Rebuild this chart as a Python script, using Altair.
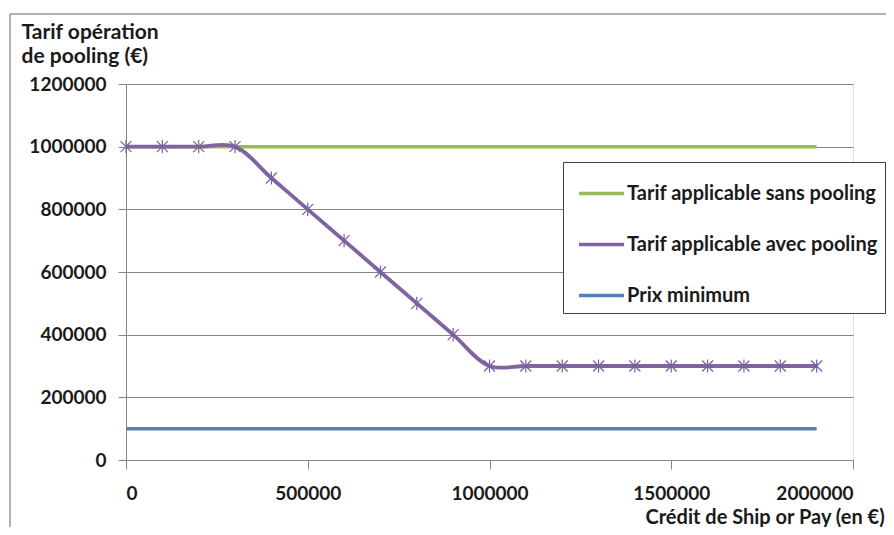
import altair as alt
import pandas as pd

x_vals = [0, 100000, 200000, 300000, 400000, 500000, 600000, 700000, 800000, 900000,
          1000000, 1100000, 1200000, 1300000, 1400000, 1500000, 1600000, 1700000, 1800000, 1900000]
sans_pooling = [1000000, 1000000, 1000000, 1000000, 1000000, 1000000, 1000000,
                1000000, 1000000, 1000000, 1000000, 1000000, 1000000, 1000000, 1000000,
                1000000, 1000000, 1000000, 1000000, 1000000]
avec_pooling = [1000000, 1000000, 1000000, 1000000, 900000, 800000, 700000, 600000, 500000,
                400000, 300000, 300000, 300000, 300000, 300000, 300000, 300000, 300000,
                300000, 300000]
prix_minimum = [100000, 100000, 100000, 100000, 100000, 100000, 100000, 100000, 100000, 100000,
                100000, 100000, 100000, 100000, 100000, 100000, 100000, 100000, 100000, 100000]

series_names = ["Tarif applicable sans pooling", "Tarif applicable avec pooling", "Prix minimum"]
series_colors = ["#9BBB59", "#8064A2", "#4F81BD"]
y_ticks = [0, 200000, 400000, 600000, 800000, 1000000, 1200000]
x_ticks = [0, 500000, 1000000, 1500000, 2000000]

rows = []
for name, vals in [(series_names[0], sans_pooling), (series_names[2], prix_minimum),
                   (series_names[1], avec_pooling)]:
    for xv, yv in zip(x_vals, vals):
        rows.append({"x": xv, "y": yv, "serie": name})
df = pd.DataFrame(rows)

FONT = "Lato"
TXT = "#1a1a1a"

color = alt.Color(
    "serie:N",
    scale=alt.Scale(domain=series_names, range=series_colors),
    legend=alt.Legend(
        title=None, orient="none", legendX=437, legendY=78,
        fillColor="white", strokeColor="#404040", padding=7,
        symbolType="stroke", symbolSize=2025, symbolStrokeWidth=3.5,
        symbolOffset=7, labelOffset=1, rowPadding=16,
        labelFont=FONT, labelFontSize=20, labelFontWeight="bold",
        labelColor=TXT, labelLimit=400,
    ),
)

x_enc = alt.X(
    "x:Q",
    scale=alt.Scale(domain=[0, 2000000], nice=False),
    axis=alt.Axis(
        values=x_ticks, format="d", title="Crédit de Ship or Pay (en €)",
        grid=False, domainColor="#868686", tickColor="#868686", tickSize=9,
        labelPadding=15, labelFont=FONT, labelFontSize=19, labelFontWeight="bold",
        labelColor=TXT, titleFont=FONT, titleFontSize=20, titleFontWeight="bold",
        titleColor=TXT, titleAnchor="start", titleAlign="left", titleX=519,
        titleY=63, titleBaseline="alphabetic",
    ),
)
y_enc = alt.Y(
    "y:Q",
    scale=alt.Scale(domain=[0, 1200000], nice=False),
    axis=alt.Axis(
        values=y_ticks, format="d",
        title=["Tarif opération", "\u2002de pooling (€)"],
        grid=True, gridColor="#868686", gridWidth=1, domainColor="#868686",
        tickColor="#868686", tickSize=8, labelPadding=12, labelFont=FONT,
        labelFontSize=19, labelFontWeight="bold", labelColor=TXT,
        titleFont=FONT, titleFontSize=21, titleFontWeight="bold", titleColor=TXT,
        titleAngle=0, titleAlign="left", titleBaseline="alphabetic", titleX=-105,
        titleY=-46, titleLineHeight=24,
    ),
)

base = alt.Chart(df)

flat = base.transform_filter(alt.datum.serie != series_names[1]).mark_line(
    strokeWidth=3.5
).encode(x=x_enc, y=y_enc, color=color)

purple = base.transform_filter(alt.datum.serie == series_names[1]).mark_line(
    strokeWidth=3.8, interpolate="catmull-rom"
).encode(x=x_enc, y=y_enc, color=color)

star = "M-1,-1L1,1M-1,1L1,-1M0,-1.2L0,1.2"
pts = base.transform_filter(alt.datum.serie == series_names[1]).mark_point(
    shape=star, size=120, filled=False, strokeWidth=1.2, color="#7a5fa0", opacity=1
).encode(x=x_enc, y=y_enc)

border = alt.Chart(pd.DataFrame({"a": [0]})).mark_rect(
    fill=None, stroke="#9a9a9a", strokeWidth=1.5, clip=False
).encode(
    x=alt.value(-116), x2=alt.value(900), y=alt.value(-70), y2=alt.value(700)
)

chart = alt.layer(border, flat, purple, pts).properties(
    width=727, height=376,
    autosize=alt.AutoSizeParams(type="none"),
    padding={"left": 118, "top": 76, "right": 33, "bottom": 67},
).configure_view(stroke=None).configure(background="white")

chart.save("out.html", embed_options={"renderer": "svg", "actions": False})
